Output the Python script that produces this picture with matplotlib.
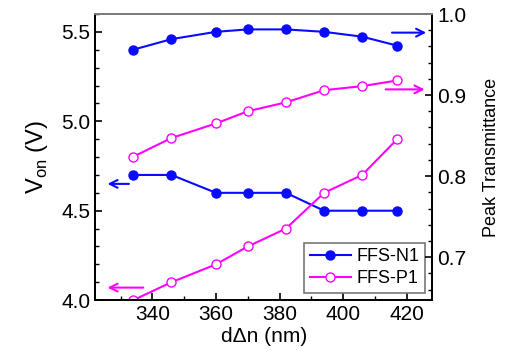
import matplotlib.pyplot as plt
from matplotlib.ticker import MultipleLocator

plt.rcParams['font.family'] = ['Liberation Sans', 'DejaVu Sans']

# d*delta n (nm)
dn = [334, 346, 360, 370, 382, 394, 406, 417]

# on-voltage (V), left axis
von_n1 = [4.7, 4.7, 4.6, 4.6, 4.6, 4.5, 4.5, 4.5]
von_p1 = [4.0, 4.1, 4.2, 4.3, 4.4, 4.6, 4.7, 4.9]

# peak transmittance, right axis
tr_n1 = [0.956, 0.969, 0.978, 0.981, 0.981, 0.978, 0.972, 0.961]
tr_p1 = [0.824, 0.847, 0.865, 0.880, 0.891, 0.906, 0.911, 0.918]

blue = '#0a0aff'
mag = '#ff00ff'

fig = plt.figure(figsize=(5.09, 3.59), dpi=100)
ax = fig.add_axes([0.187, 0.164, 0.662, 0.797])
ax2 = ax.twinx()

l1, = ax.plot(dn, von_n1, color=blue, lw=1.5, marker='o', ms=6.5, mfc=blue, label='FFS-N1')
l2, = ax.plot(dn, von_p1, color=mag, lw=1.5, marker='o', ms=6.5, mfc='white', label='FFS-P1')
ax2.plot(dn, tr_n1, color=blue, lw=1.5, marker='o', ms=6.5, mfc=blue)
ax2.plot(dn, tr_p1, color=mag, lw=1.5, marker='o', ms=6.5, mfc='white')

ax.set_xlim(322, 428)
ax.set_ylim(4.0, 5.6)
ax2.set_ylim(0.647, 1.0)

ax.xaxis.set_major_locator(MultipleLocator(20))
ax.xaxis.set_minor_locator(MultipleLocator(10))
ax.yaxis.set_major_locator(MultipleLocator(0.5))
ax.yaxis.set_minor_locator(MultipleLocator(0.1))
ax2.yaxis.set_major_locator(MultipleLocator(0.1))
ax2.yaxis.set_minor_locator(MultipleLocator(0.02))
ax.yaxis.set_major_formatter(plt.FormatStrFormatter('%.1f'))
ax2.yaxis.set_major_formatter(plt.FormatStrFormatter('%.1f'))

ax.tick_params(which='both', direction='in', labelsize=15, top=False, right=False)
ax.tick_params(which='major', length=5, width=1.2)
ax.tick_params(which='minor', length=3, width=1.0)
ax2.tick_params(which='both', direction='in', labelsize=15)
ax2.tick_params(which='major', length=5, width=1.2)
ax2.tick_params(which='minor', length=3, width=1.0)

for a in (ax, ax2):
    for s in a.spines.values():
        s.set_linewidth(1.3)
ax2.spines['top'].set_color('#888888')

ax.set_xlabel('d\u0394n (nm)', fontsize=15, labelpad=2)
ax.set_ylabel('V$_{\\mathregular{on}}$ (V)', fontsize=17, labelpad=8)
ax2.set_ylabel('Peak Transmittance', fontsize=13, labelpad=12)

# arrows pointing to the corresponding axis
arr = dict(arrowstyle='->', lw=1.5, mutation_scale=14)
ax.annotate('', xy=(325, 4.65), xytext=(333.5, 4.65), arrowprops=dict(color=blue, **arr))
ax.annotate('', xy=(325, 4.07), xytext=(338, 4.07), arrowprops=dict(color=mag, **arr))
ax2.annotate('', xy=(427, 0.977), xytext=(414.5, 0.977), arrowprops=dict(color=blue, **arr))
ax2.annotate('', xy=(426.5, 0.907), xytext=(412.5, 0.907), arrowprops=dict(color=mag, **arr))

leg = ax.legend(handles=[l1, l2], loc='lower right', fontsize=13, fancybox=False,
                edgecolor='#777777', framealpha=1, handlelength=2.3, handletextpad=0.3,
                borderpad=0.3, labelspacing=0.3, borderaxespad=0.4)
leg.get_frame().set_linewidth(1.2)

fig.savefig('out.png', dpi=100)
